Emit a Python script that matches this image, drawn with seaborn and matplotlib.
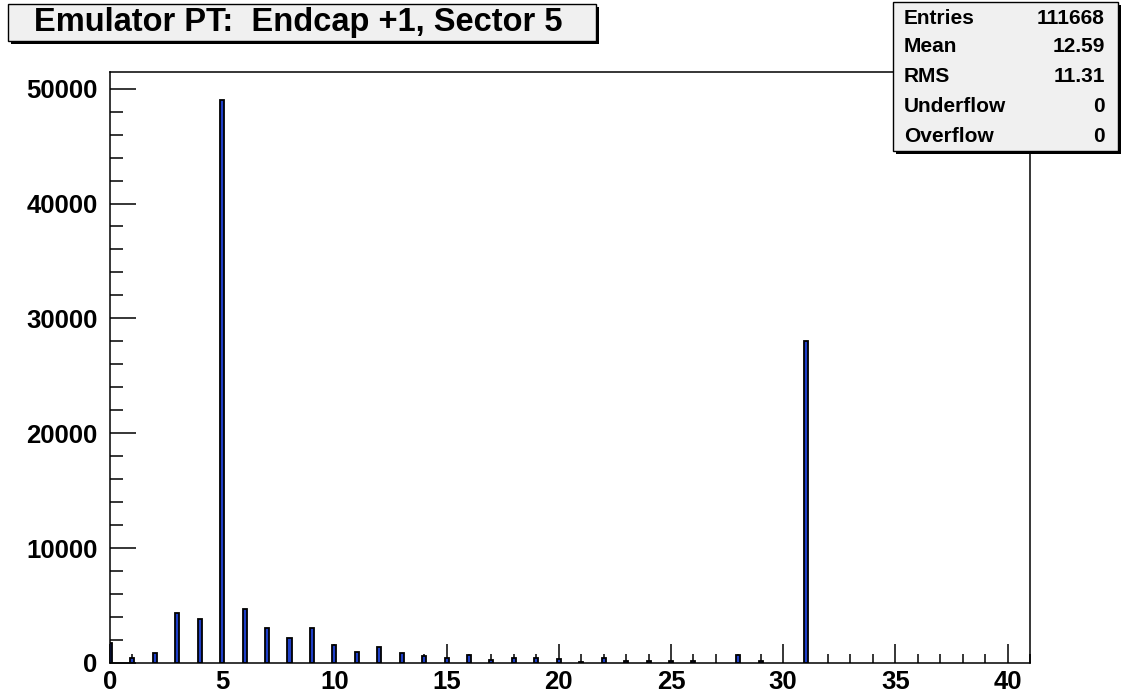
import numpy as np
import pandas as pd
import matplotlib
matplotlib.use("Agg")
import matplotlib.pyplot as plt
import seaborn as sns
from matplotlib.patches import Rectangle
from matplotlib.ticker import MultipleLocator

# ---------------- data ----------------
pt_values = [0, 1, 2, 3, 4, 5, 6, 7, 8, 9, 10, 11, 12, 13, 14, 15, 16, 17, 18, 19,
             20, 21, 22, 23, 24, 25, 26, 28, 29, 31]
counts = [1750, 450, 900, 4350, 3800, 49000, 4700, 3050, 2150, 3050, 1550, 1000, 1400,
          850, 600, 450, 700, 250, 400, 400, 350, 100, 400, 150, 150, 200, 150, 700, 150,
          28000]
title = "Emulator PT:  Endcap +1, Sector 5"
stat_labels = ["Entries", "Mean", "RMS", "Underflow", "Overflow"]
stat_values = ["111668", "12.59", "11.31", "0", "0"]
x_ticks = [0, 5, 10, 15, 20, 25, 30, 35, 40]
y_ticks = [0, 10000, 20000, 30000, 40000, 50000]

# ---------------- style ----------------
sns.set_theme(style="white")
plt.rcParams["font.family"] = ["Liberation Sans", "DejaVu Sans"]
plt.rcParams["font.weight"] = "bold"

W, H = 1126, 700
fig = plt.figure(figsize=(W / 100, H / 100), dpi=100)
fig.patch.set_facecolor("white")


def fx(px):
    return px / W


def fy(py):
    return 1 - py / H


ax = fig.add_axes([fx(110), fy(663), (1030 - 110) / W, (663 - 72) / H])
ax.set_facecolor("white")

df = pd.DataFrame({"pt": pt_values, "count": counts})
sns.barplot(data=df, x="pt", y="count", native_scale=True, width=0.18,
            color="#1f3fc8", saturation=1, edgecolor="black", linewidth=1.3,
            errorbar=None, ax=ax)

ax.set_xlim(0, 41)
ax.set_ylim(0, 51450)
ax.set_xlabel("")
ax.set_ylabel("")

ax.set_xticks(x_ticks)
ax.set_xticklabels([str(v) for v in x_ticks], fontsize=18.5, fontweight="bold",
                   color="black")
ax.set_yticks(y_ticks)
ax.set_yticklabels([str(v) for v in y_ticks], fontsize=18.5, fontweight="bold",
                   color="black")
ax.xaxis.set_minor_locator(MultipleLocator(1))
ax.yaxis.set_minor_locator(MultipleLocator(2000))

ax.tick_params(axis="x", which="major", direction="in", length=13.5, width=1.1,
               color="black", pad=5, bottom=True, top=False)
ax.tick_params(axis="x", which="minor", direction="in", length=6.5, width=1.1,
               color="black", bottom=True, top=False)
ax.tick_params(axis="y", which="major", direction="in", length=19, width=1.1,
               color="black", pad=9, left=True, right=False)
ax.tick_params(axis="y", which="minor", direction="in", length=9.5, width=1.1,
               color="black", left=True, right=False)

for s in ax.spines.values():
    s.set_visible(True)
    s.set_color("black")
    s.set_linewidth(1.1)

# ---------------- title box ----------------
def shadow_box(x0, y0, x1, y1, off=3):
    fig.add_artist(Rectangle((fx(x0 + off), fy(y1 + off)), (x1 - x0) / W, (y1 - y0) / H,
                             transform=fig.transFigure, facecolor="black",
                             edgecolor="black", linewidth=0, zorder=5))
    fig.add_artist(Rectangle((fx(x0), fy(y1)), (x1 - x0) / W, (y1 - y0) / H,
                             transform=fig.transFigure, facecolor="#f0f0f0",
                             edgecolor="black", linewidth=1.0, zorder=6))


shadow_box(8, 4, 596, 41)
fig.text(fx(298), fy(23), title, ha="center", va="center", fontsize=23.5,
         fontweight="bold", color="black", zorder=7)

# ---------------- stats box ----------------
shadow_box(893, 2, 1118, 151)
row_y = [18, 46, 76, 106, 137]
for lab, val, ry in zip(stat_labels, stat_values, row_y):
    fig.text(fx(904), fy(ry), lab, ha="left", va="center", fontsize=15,
             fontweight="bold", color="black", zorder=7)
    fig.text(fx(1105), fy(ry), val, ha="right", va="center", fontsize=15,
             fontweight="bold", color="black", zorder=7)

fig.savefig("out.png", dpi=100)
